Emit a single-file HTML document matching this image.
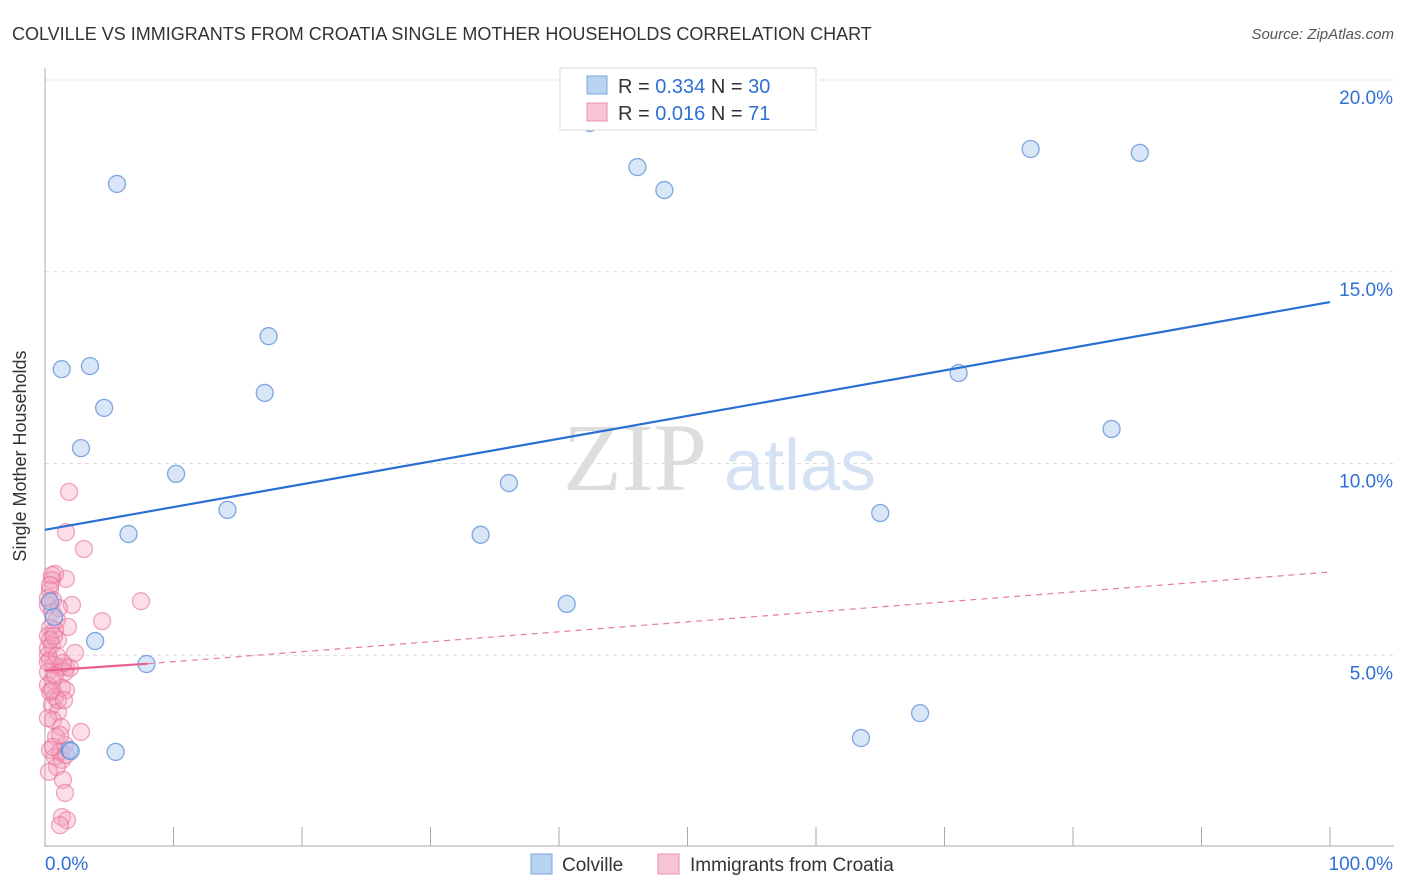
<!DOCTYPE html>
<html><head><meta charset="utf-8"><style>
body{margin:0;background:#fff;font-family:"Liberation Sans",sans-serif}
svg{display:block}
</style></head><body>
<svg id="c" width="1406" height="892">
<text x="12" y="40" font-size="18" fill="#333">COLVILLE VS IMMIGRANTS FROM CROATIA SINGLE MOTHER HOUSEHOLDS CORRELATION CHART</text>
<text x="1394" y="39" font-size="15" fill="#555" font-style="italic" text-anchor="end">Source: ZipAtlas.com</text>
<text x="26" y="456" font-size="18" fill="#333" text-anchor="middle" transform="rotate(-90 26 456)">Single Mother Households</text>
<g><text x="635" y="490" font-size="96" fill="#ddd" font-family="Liberation Serif,serif" text-anchor="middle">ZIP</text><text x="800" y="490" font-size="72" fill="#d4e2f4" text-anchor="middle">atlas</text></g>
<g id="grid"></g><g id="axes"></g><g id="marks"></g>
<g>
<rect x="560" y="68" width="256" height="62" fill="#fff" stroke="#ddd"/>
<rect x="587" y="76" width="20" height="18" fill="#b9d3f3" stroke="#7aa6e0"/>
<rect x="587" y="103" width="20" height="18" fill="#f8c5d5" stroke="#ee8fb0"/>
<text x="618" y="93" font-size="20" fill="#333">R = <tspan fill="#2f6fd6">0.334</tspan>   N = <tspan fill="#2f6fd6">30</tspan></text>
<text x="618" y="120" font-size="20" fill="#333">R = <tspan fill="#2f6fd6">0.016</tspan>   N = <tspan fill="#2f6fd6"> 71</tspan></text>
</g>
<g>
<rect x="531" y="854" width="21" height="20" fill="#b9d3f3" stroke="#7aa6e0"/><text x="562" y="871" font-size="19" fill="#333">Colville</text>
<rect x="658" y="854" width="21" height="20" fill="#f8c5d5" stroke="#ee8fb0"/><text x="690" y="871" font-size="19" fill="#333">Immigrants from Croatia</text>
</g>
</svg>
<script>
const yTicks=[5,10,15,20];
const yTickLabels=["5.0%","10.0%","15.0%","20.0%"];
const xTicks=[0,10,20,30,40,50,60,70,80,90,100];
const colvilleX=[5.6,1.3,3.5,4.6,2.8,10.2,17.4,17.1,14.2,6.5,3.9,7.9,5.5,1.9,0.7,42.4,46.1,48.2,36.1,33.9,40.6,76.7,85.2,71.1,83.0,65.0,68.1,63.5,0.4,2.0];
const colvilleY=[17.29,12.46,12.54,11.45,10.4,9.73,13.32,11.84,8.79,8.16,5.37,4.77,2.48,2.53,6.0,18.88,17.73,17.13,9.49,8.14,6.34,18.2,18.1,12.36,10.9,8.71,3.49,2.84,6.4,2.5];
const croatiaX=[1.87,1.63,3.03,7.47,4.44,2.10,1.63,0.78,0.54,0.39,0.62,0.23,0.54,0.93,0.39,1.79,0.23,0.54,2.33,0.23,0.39,0.70,1.17,1.63,0.23,1.56,0.62,0.23,1.32,1.63,0.78,0.54,1.01,0.62,1.25,2.80,0.86,1.56,0.39,1.17,0.78,1.32,0.93,1.40,1.56,1.32,1.71,1.17,0.54,0.23,1.01,0.23,0.78,1.95,0.39,1.01,0.23,0.62,1.17,1.63,0.31,0.78,1.40,0.23,0.54,0.93,0.39,1.09,1.48,0.39,0.7];
const croatiaY=[9.26,8.21,7.77,6.41,5.89,6.31,6.99,7.12,6.96,6.70,6.44,6.31,6.13,5.92,5.71,5.74,5.50,5.27,5.06,5.01,4.88,4.75,4.69,4.69,4.56,4.56,4.35,4.22,4.15,4.09,3.91,3.70,3.52,3.31,3.13,3.00,2.87,2.66,2.53,2.48,2.35,2.27,2.09,1.75,1.41,0.78,0.70,0.57,7.09,6.49,5.40,4.82,4.48,4.67,4.04,3.83,3.36,2.61,2.92,2.40,1.96,5.66,4.80,5.19,4.09,4.98,5.40,6.23,3.83,6.83,5.5];
const blueTrend=[[0,8.27],[100,14.21]];
const pinkTrend=[[0,4.6],[8,4.78],[100,7.17]];
const X=v=>45+v*12.85, Y=v=>847-v*38.35;
const NS="http://www.w3.org/2000/svg";
function mk(p,t,a){const e=document.createElementNS(NS,t);for(const k in a)e.setAttribute(k,a[k]);p.appendChild(e);return e;}
const grid=document.getElementById('grid'),axes=document.getElementById('axes'),marks=document.getElementById('marks');
yTicks.forEach((t,i)=>{
  const l=mk(grid,'line',{x1:45,x2:1394,y1:Y(t),y2:Y(t),stroke:'#ddd','stroke-dasharray':'4,4'});
  
  
  const tx=mk(axes,'text',{x:1393,y:Y(t)+24,'font-size':19,fill:'#2f6fd6','text-anchor':'end'});
  tx.textContent=yTickLabels[i];
  
  
});
const ya=mk(axes,'line',{x1:45,x2:45,y1:68,y2:847,stroke:'#aaa'});


const xa=mk(axes,'line',{x1:45,x2:1394,y1:846,y2:846,stroke:'#aaa'});


xTicks.forEach(t=>{
  const l=mk(axes,'line',{x1:X(t),x2:X(t),y1:827,y2:846,stroke:'#aaa'});
  
  
});
[["0.0%",45,"start"],["100.0%",1393,"end"]].forEach(a=>{
  const tx=mk(axes,'text',{x:a[1],y:870,'font-size':19,fill:'#2f6fd6','text-anchor':a[2]});
  tx.textContent=a[0];
  
  
});
croatiaX.forEach((v,i)=>{
  const c=mk(marks,'circle',{cx:X(v),cy:Y(croatiaY[i]),r:8.5,fill:'rgba(244,160,188,0.35)',stroke:'rgba(232,110,150,0.6)','stroke-width':1.3});
  
  
});
colvilleX.forEach((v,i)=>{
  const c=mk(marks,'circle',{cx:X(v),cy:Y(colvilleY[i]),r:8.5,fill:'rgba(170,200,240,0.45)',stroke:'rgba(90,140,215,0.75)','stroke-width':1.3});
  
  
});
const bt=mk(marks,'line',{x1:X(blueTrend[0][0]),y1:Y(blueTrend[0][1]),x2:X(blueTrend[1][0]),y2:Y(blueTrend[1][1]),stroke:'#2a6fd4','stroke-width':2.2});


const pd=mk(marks,'line',{x1:X(pinkTrend[1][0]),y1:Y(pinkTrend[1][1]),x2:X(pinkTrend[2][0]),y2:Y(pinkTrend[2][1]),stroke:'#e87aa0','stroke-width':1.2,'stroke-dasharray':'6,5'});


const ps=mk(marks,'line',{x1:X(pinkTrend[0][0]),y1:Y(pinkTrend[0][1]),x2:X(pinkTrend[1][0]),y2:Y(pinkTrend[1][1]),stroke:'#e8608e','stroke-width':2.2});


</script>
</body></html>
